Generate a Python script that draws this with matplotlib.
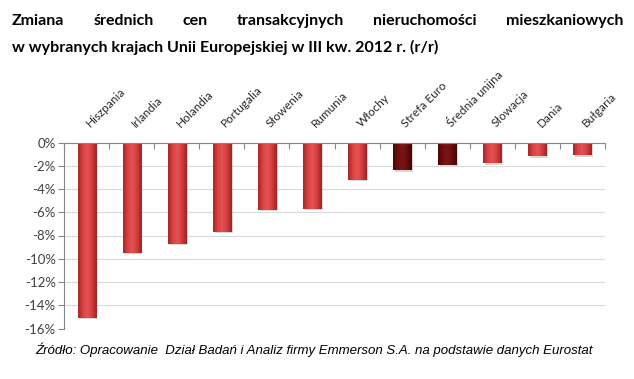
import numpy as np
import matplotlib
matplotlib.use("Agg")
import matplotlib.pyplot as plt
from matplotlib.colors import LinearSegmentedColormap

# data (% change y/y, Q3 2012)
countries = ["Hiszpania", "Irlandia", "Holandia", "Portugalia", "Słowenia", "Rumunia",
             "Włochy", "Strefa Euro", "Średnia unijna", "Słowacja", "Dania", "Bułgaria"]
change = [-15.1, -9.5, -8.7, -7.7, -5.8, -5.7, -3.2, -2.4, -1.9, -1.8, -1.2, -1.1]
aggregates = ["Strefa Euro", "Średnia unijna"]

title_line1 = "Zmiana średnich cen transakcyjnych nieruchomości mieszkaniowych"
title_line2 = "w wybranych krajach Unii Europejskiej w III kw. 2012 r. (r/r)"
source = "Źródło: Opracowanie  Dział Badań i Analiz firmy Emmerson S.A. na podstawie danych Eurostat"

W, H = 634, 379
fig = plt.figure(figsize=(W / 100, H / 100), dpi=100)
ax = fig.add_axes([64 / W, 1 - 328.5 / H, (605 - 64) / W, (328.5 - 142.5) / H])

red_cmap = LinearSegmentedColormap.from_list("r", ["#a52626", "#d94242", "#e45353", "#d23c3c", "#9e2222"])
dark_cmap = LinearSegmentedColormap.from_list("d", ["#4a0606", "#6e0f0f", "#7c1515", "#680c0c", "#440404"])
grad = np.linspace(0, 1, 64).reshape(1, -1)

x = np.arange(len(countries))
width = 0.4
for i, (c, v) in enumerate(zip(countries, change)):
    cmap = dark_cmap if c in aggregates else red_cmap
    # soft shadow
    ax.bar(x[i] + 0.04, v - 0.12, width, color="#b0b0b0", alpha=0.5, zorder=2)
    b = ax.bar(x[i], v, width, color=cmap(0.5), edgecolor="none", zorder=3)[0]
    im = ax.imshow(grad, cmap=cmap, aspect="auto", zorder=4,
                   extent=[x[i] - width / 2, x[i] + width / 2, v, 0])
    im.set_clip_path(b)

ax.set_xlim(-0.5, len(countries) - 0.5)
ax.set_ylim(-16, 0)
ax.set_yticks(np.arange(-16, 1, 2))
ax.set_yticklabels([f"{t}%" for t in range(-16, 1, 2)], fontsize=9.5,
                   color="#404040", family="Lato")
ax.yaxis.grid(True, color="#d9d9d9", linewidth=0.8, zorder=0)
ax.set_axisbelow(True)

# category ticks at boundaries, labels above the zero line
ax.set_xticks(np.arange(-0.5, len(countries), 1))
ax.set_xticklabels([])
ax.xaxis.tick_top()
ax.tick_params(axis="x", direction="in", length=4, color="#868686")
ax.tick_params(axis="y", length=4, color="#868686", pad=2)
for i, c in enumerate(countries):
    ax.annotate(c, (x[i], 0), xytext=(4, 9.5), textcoords="offset points",
                rotation=45, ha="left", va="bottom", rotation_mode="anchor",
                fontsize=8.5, color="#262626", family="Lato", annotation_clip=False)

for s in ["right", "bottom"]:
    ax.spines[s].set_visible(False)
ax.spines["top"].set_color("#868686")
ax.spines["left"].set_color("#868686")
ax.spines["top"].set_zorder(5)

# title: Lato bold is narrower, like the condensed Arial of the original
tfont = dict(family="Lato", weight="bold", fontsize=11.5, color="black")
fig.canvas.draw()
r = fig.canvas.get_renderer()
words = title_line1.split()
txts = [fig.text(0, 0, w_, **tfont) for w_ in words]
widths = [t.get_window_extent(r).width for t in txts]
x0, x1 = 12, 623
gap = (x1 - x0 - sum(widths)) / (len(words) - 1)
pos = x0
for t, wd in zip(txts, widths):
    t.set_position((pos / W, 1 - 25 / H))
    pos += wd + gap
fig.text(12 / W, 1 - 52 / H, title_line2, **tfont)

fig.text(35 / W, 1 - 354 / H, source, family="Liberation Sans", style="italic",
         fontsize=9.5, color="black")

fig.savefig("out.png", dpi=100)
